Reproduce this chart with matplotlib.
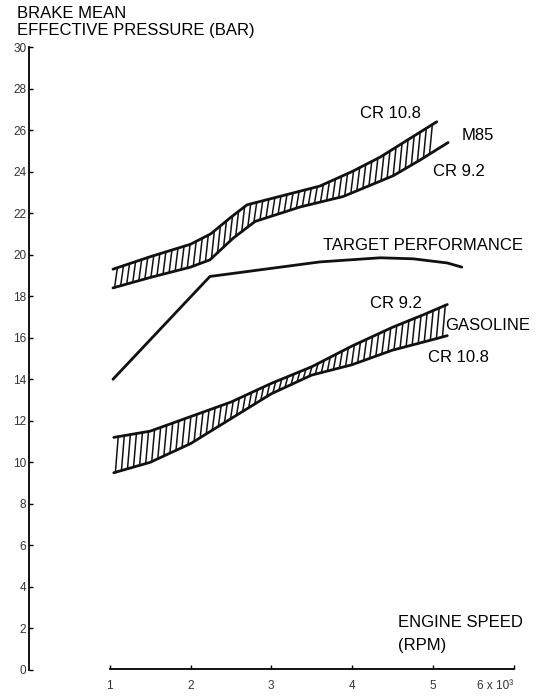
import numpy as np
import matplotlib
matplotlib.use("Agg")
import matplotlib.pyplot as plt

plt.rcParams['font.family'] = ['Liberation Sans', 'DejaVu Sans']

# ---- data (engine speed in 1000 rpm, BMEP in bar) ----
target_rpm = [1.04, 2.24, 3.6, 4.35, 4.76, 5.18, 5.36]
target_bmep = [14.0, 18.95, 19.65, 19.85, 19.8, 19.6, 19.4]

m85_cr108_rpm = [1.04, 1.5, 2.0, 2.25, 2.5, 2.7, 3.0, 3.6, 4.0, 4.35, 4.72, 5.05]
m85_cr108_bmep = [19.3, 19.9, 20.5, 21.0, 21.8, 22.4, 22.7, 23.3, 24.0, 24.7, 25.6, 26.4]
m85_cr92_rpm = [1.04, 1.5, 2.0, 2.24, 2.53, 2.8, 3.36, 3.89, 4.51, 4.84, 5.19]
m85_cr92_bmep = [18.4, 18.9, 19.4, 19.75, 20.8, 21.6, 22.3, 22.8, 23.8, 24.55, 25.4]

gas_cr92_rpm = [1.05, 1.5, 2.0, 2.5, 3.0, 3.5, 4.0, 4.5, 4.88, 5.18]
gas_cr92_bmep = [11.2, 11.5, 12.2, 12.9, 13.8, 14.6, 15.6, 16.5, 17.1, 17.6]
gas_cr108_rpm = [1.05, 1.5, 2.0, 2.5, 3.0, 3.5, 4.0, 4.5, 4.99, 5.18]
gas_cr108_bmep = [9.5, 10.0, 10.9, 12.1, 13.3, 14.2, 14.7, 15.4, 15.9, 16.1]

y_ticks = list(range(0, 31, 2))
x_ticks = [1, 2, 3, 4, 5, 6]
x_tick_labels = ['1', '2', '3', '4', '5', '6 x 10\u00b3']

W, H = 537, 696
fig = plt.figure(figsize=(W / 100, H / 100), dpi=100)
ax = fig.add_axes([29 / W, 26 / H, (W - 29) / W, 623 / H])
ax.set_xlim(0, (W - 29) / 80.75)
ax.set_ylim(0, 30)

ink = '#111111'


def band(ax, xu, yu, xl, yl, step=0.075, slant=0.035):
    xu, yu, xl, yl = map(np.asarray, (xu, yu, xl, yl))
    ax.plot(xu, yu, color=ink, lw=2.0, solid_capstyle='round')
    ax.plot(xl, yl, color=ink, lw=2.0, solid_capstyle='round')
    x0 = max(xu[0], xl[0])
    x1 = min(xu[-1], xl[-1]) - slant
    for xs in np.arange(x0 + 0.02, x1, step):
        lo = np.interp(xs, xl, yl)
        hi = np.interp(xs + slant, xu, yu)
        ax.plot([xs, xs + slant], [lo, hi], color=ink, lw=1.1)


band(ax, m85_cr108_rpm, m85_cr108_bmep, m85_cr92_rpm, m85_cr92_bmep)
band(ax, gas_cr92_rpm, gas_cr92_bmep, gas_cr108_rpm, gas_cr108_bmep)

ax.plot(target_rpm, target_bmep, color=ink, lw=2.0, solid_capstyle='round')

# spines / ticks
for s in ['top', 'right']:
    ax.spines[s].set_visible(False)
ax.spines['left'].set_bounds(0, 30)
ax.spines['left'].set_linewidth(1.3)
ax.spines['bottom'].set_bounds(1, 6)
ax.spines['bottom'].set_position(('data', 0.05))
ax.spines['bottom'].set_linewidth(1.3)
ax.set_yticks(y_ticks)
ax.set_yticklabels([str(v) for v in y_ticks], fontsize=8.5, color='#333333')
ax.tick_params(axis='y', direction='in', length=3, width=1, pad=2)
ax.set_xticks(x_ticks)
ax.set_xticklabels(x_tick_labels, fontsize=8.5, color='#333333')
ax.tick_params(axis='x', direction='in', length=3, width=1, pad=8)
for lbl in ax.get_xticklabels()[-1:]:
    lbl.set_horizontalalignment('right')
    lbl.set_x(6.05)

fs = 12
fig.text(17 / W, 1 - 13 / H, 'BRAKE MEAN', fontsize=fs, va='center', ha='left')
fig.text(17 / W, 1 - 31 / H, 'EFFECTIVE PRESSURE (BAR)', fontsize=fs, va='center', ha='left')

ax.text(4.47, 26.8, 'CR 10.8', fontsize=fs, ha='center', va='center')
ax.text(5.36, 25.76, 'M85', fontsize=fs, ha='left', va='center')
ax.text(5.0, 24.0, 'CR 9.2', fontsize=fs, ha='left', va='center')
ax.text(3.64, 20.46, 'TARGET PERFORMANCE', fontsize=fs, ha='left', va='center')
ax.text(4.22, 17.67, 'CR 9.2', fontsize=fs, ha='left', va='center')
ax.text(5.15, 16.6, 'GASOLINE', fontsize=fs, ha='left', va='center')
ax.text(4.94, 15.07, 'CR 10.8', fontsize=fs, ha='left', va='center')
ax.text(4.57, 2.31, 'ENGINE SPEED', fontsize=fs, ha='left', va='center')
ax.text(4.57, 1.2, '(RPM)', fontsize=fs, ha='left', va='center')

fig.savefig('out.png', dpi=100)
